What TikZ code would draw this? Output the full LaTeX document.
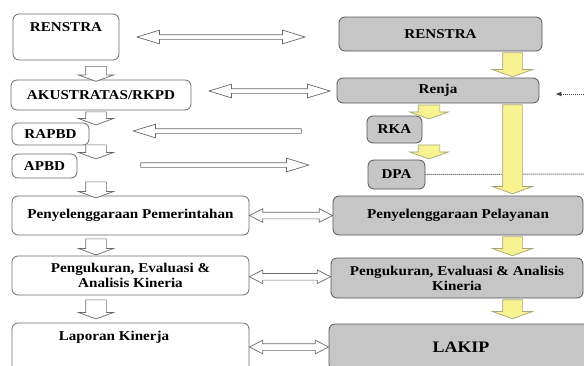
\documentclass[tikz,border=0pt]{standalone}
\usepackage{fontspec}
\setmainfont[FakeStretch=1.12]{Liberation Serif}
\usepackage{xcolor}
\usetikzlibrary{shapes.arrows}
\usetikzlibrary{calc}
\usetikzlibrary{arrows.meta}

\definecolor{boxgray}{HTML}{C6C6C6}
\definecolor{edgegray}{HTML}{6A6A6A}
\definecolor{paleyellow}{HTML}{F8F291}
\definecolor{yellowedge}{HTML}{A9A47A}

\begin{document}
\begin{tikzpicture}[x=1pt,y=-1pt,
    font=\fontsize{13.5}{15}\selectfont\bfseries,
    wbox/.style={draw=edgegray,line width=.8pt,rounded corners=6pt,fill=white,inner sep=0pt,align=center},
    gbox/.style={wbox,fill=boxgray,draw=edgegray!80!black},
    hdown/.style={single arrow,rotate=-90,draw=edgegray,line width=.7pt,fill=white,
      inner xsep=0pt,inner ysep=10pt,single arrow head extend=7pt,single arrow tip angle=140},
    ydown/.style={hdown,draw=yellowedge,fill=paleyellow,inner ysep=9.5pt,single arrow head extend=10pt},
    ysmall/.style={ydown,inner ysep=10.5pt,single arrow head extend=8.5pt},
    hlong/.style={double arrow,draw=edgegray,line width=.7pt,fill=white,inner xsep=0pt,inner ysep=2pt,
      double arrow head extend=4.5pt,double arrow tip angle=34},
    hshort/.style={hlong,inner ysep=3pt,double arrow head extend=3.5pt,double arrow tip angle=54},
    hsingle/.style={single arrow,draw=edgegray,line width=.7pt,fill=white,inner xsep=0pt,inner ysep=2pt,
      single arrow head extend=4.5pt,single arrow tip angle=34},
    dotline/.style={draw=black!75,line width=1pt,densely dotted}]
  \path[use as bounding box,clip] (0,0) rectangle (584,365);
  % left column
  \node (lren) [wbox,minimum width=106pt,minimum height=46pt] at (66,37) {};
  \node [below] at ([yshift=-5pt]lren.north) {RENSTRA};
  \node (laku) [wbox,minimum width=180pt,minimum height=30pt] at (101,95) {AKUSTRATAS/RKPD};
  \node (lrap) [wbox,minimum width=77pt,minimum height=22pt] at (50.5,134) {RAPBD};
  \node (lapb) [wbox,minimum width=65pt,minimum height=24pt] at (44.5,166) {APBD};
  \node (lpem) [wbox,minimum width=237pt,minimum height=39pt] at (130.5,215.5) {Penyelenggaraan Pemerintahan};
  \node (lpen) [wbox,minimum width=237pt,minimum height=39pt] at (130.5,275.5) {Pengukuran, Evaluasi \&\\Analisis Kineria};
  \node (llap) [wbox,minimum width=237pt,minimum height=60pt] at (130.5,353) {};
  \node at (114,337) {Laporan Kinerja};
  \node [hdown,minimum height=15pt] at (96,72) {};
  \node [hdown,minimum height=13pt] at (96,116.5) {};
  \node [hdown,minimum height=14pt] at (96,150) {};
  \node [hdown,minimum height=16pt] at (96,188) {};
  \node [hdown,minimum height=16pt] at (96,245) {};
  \node [hdown,minimum height=19pt] at (96,307.5) {};
  % right column
  \node (rren) [gbox,minimum width=203pt,minimum height=34pt] at (440.5,34) {RENSTRA};
  \node (rrenja) [gbox,minimum width=202pt,minimum height=25pt] at (438,90.5) {Renja};
  \node (rrka) [gbox,minimum width=55pt,minimum height=27pt] at (394.5,129.5) {RKA};
  \node (rdpa) [gbox,minimum width=57pt,minimum height=29pt] at (396.5,174.5) {DPA};
  \node (rpel) [gbox,minimum width=250pt,minimum height=39pt] at (458,215.5) {Penyelenggaraan Pelayanan};
  \node (rpen) [gbox,minimum width=252pt,minimum height=40pt] at (457,278) {Pengukuran, Evaluasi \& Analisis\\Kineria};
  \node (rlak) [gbox,minimum width=264pt,minimum height=46pt,font=\fontsize{16}{18}\selectfont\bfseries] at (461,347) {LAKIP};
  \draw[dotline] (rdpa.east) -- (592,174) -- (592,94) coordinate (dtop);
  \draw[dotline,-{Latex[length=6pt,width=5pt]}] (dtop) -- ([xshift=16pt,yshift=-3.5pt]rrenja.east);
  \node [ydown,minimum height=24pt] at (512.5,63) {};
  \node [ydown,minimum height=89pt] at (512.5,147.5) {};
  \node [ydown,minimum height=19pt] at (512.5,244.5) {};
  \node [ydown,minimum height=19pt] at (512.5,307.5) {};
  \node [ysmall,minimum height=14pt] at (429,110) {};
  \node [ysmall,minimum height=14pt] at (429,150) {};
  % links between columns
  \node [hlong,minimum height=168pt] at (221,37) {};
  \node [hlong,minimum height=121pt] at (269.5,91) {};
  \node [hsingle,minimum height=168pt,rotate=180] at (221,131) {};
  \node [hsingle,minimum height=168pt] at (221,165) {};
  \path let \p1=(lpem.east), \p2=(rpel.west) in
    node [hshort,minimum height=\x2-\x1] at ($(\p1)!.5!(\p2)$) {};
  \path let \p1=(lpen.east), \p2=(rpen.west) in
    node [hshort,minimum height=\x2-\x1] at ($(\p1)!.5!(\p2)$) {};
  \path let \p1=(llap.east), \p2=(rlak.west) in
    node [hshort,minimum height=\x2-\x1] at ($(\p1)!.5!(\p2)+(0,-3)$) {};
\end{tikzpicture}
\end{document}
